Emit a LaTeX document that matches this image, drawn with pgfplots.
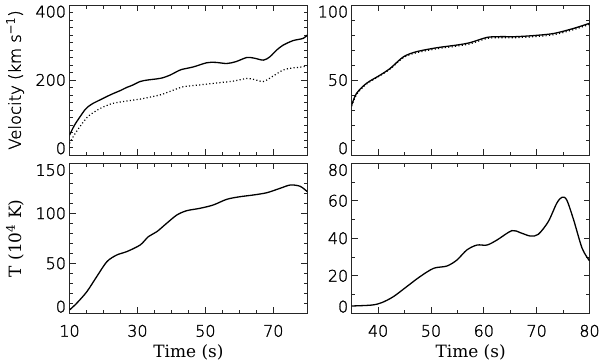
\documentclass[border=0pt]{standalone}
\usepackage{fontspec}
\usepackage{pgfplots}
\pgfplotsset{compat=1.18}
\setmainfont{DejaVu Serif}
\newfontfamily\idlsans[RawFeature={embolden=1.5}]{DejaVu Sans ExtraLight}

% y tick labels: first one raised, last one lowered (as IDL does)
\newcommand{\ylab}[1]{%
  \ifnum\ticknum=0 \raisebox{0.42em}[\height][\depth]{\pgfmathprintnumber{\tick}}%
  \else\ifnum\ticknum=#1 \raisebox{-0.42em}[\height][\depth]{\pgfmathprintnumber{\tick}}%
  \else\pgfmathprintnumber{\tick}\fi\fi}

\pgfplotsset{
  idl/.style={
    scale only axis,
    width=237.8bp, height=150bp,
    axis line style={black!85, line width=0.9bp},
    every tick/.style={black!85, line width=0.8bp},
    major tick length=6bp,
    minor tick length=3.5bp,
    tick align=inside,
    xtick pos=both, ytick pos=both,
    /pgf/number format/assume math mode=true,
    tick label style={font=\fontsize{16}{16}\idlsans, text=black},
    xticklabel style={anchor=base, yshift=-23.4bp},
    label style={text=black},
    xlabel style={font=\fontsize{17}{17}\selectfont, at={(axis description cs:0.5,-0.295)}, anchor=base},
    ylabel style={at={(axis description cs:-0.229,0.5)}, anchor=center},
  },
  leftx/.style={xmin=10, xmax=80, xtick={10,30,50,70}, minor x tick num=3},
  rightx/.style={xmin=35, xmax=80, xtick={40,50,60,70,80}, minor x tick num=1},
  sol/.style={black, line width=1.3bp, smooth, tension=0.5},
  dot/.style={black, line width=1.2bp, dash pattern=on 1.1bp off 2.3bp, smooth, tension=0.5},
}

\begin{document}
\begin{tikzpicture}
\path[use as bounding box] (0,0) rectangle (600bp,-362bp);

% top left: velocity
\begin{axis}[idl, leftx, at={(69.5bp,-5bp)}, anchor=north west,
  xticklabels={},
  ymin=0, ymax=400, ytick={0,200,400}, minor y tick num=9,
  yticklabel={\ylab{2}},
  ylabel={\fontsize{16.5}{16.5}\idlsans Velocity (km s\textsuperscript{−1})}]
\addplot[sol] coordinates {
(10,53) (11.5,80) (13.1,102) (14.5,120) (15.5,129) (17,138) (19,147) (21,156)
(22.9,164) (25,172) (26.8,180) (28.5,186) (30.8,196) (33,200) (35.7,203)
(37.5,206) (39.6,213) (41.5,222) (43,228) (46.5,235) (50.4,246) (53,247)
(56.3,244) (59,249) (62.2,260) (64.5,258) (67.1,253) (69,262) (71,280)
(72.9,293) (75.8,305) (78.8,311) (80,320)};
\addplot[dot] coordinates {
(10,31) (11.5,55) (13.1,76) (14.5,93) (16,107) (19,124) (21,132) (22.9,138)
(26.8,144) (30.8,149) (33.5,154) (36.6,160) (38.5,166) (40.6,173) (43.5,182)
(48.4,187) (54.3,193) (58.2,197) (62.2,204) (64.5,201) (67.1,196) (70,211)
(73,227) (75.5,232) (77.9,234) (80,238)};
\end{axis}

% top right
\begin{axis}[idl, rightx, at={(351.7bp,-5bp)}, anchor=north west,
  xticklabels={},
  ymin=0, ymax=100, ytick={0,50,100}, minor y tick num=4,
  yticklabel={\ylab{2}}]
\addplot[sol] coordinates {
(35,33.3) (35.9,41) (37.8,47.8) (40.4,53.3) (42.3,57.8) (44.8,65.5) (47.3,68.9)
(51.1,71.5) (54.9,73.3) (57.4,74.9) (60.6,78.4) (63.1,78.9) (66,78.9)
(69.4,79.6) (73.2,81) (77,84.4) (80,87.8)};
\addplot[dot] coordinates {
(35,32.5) (35.9,40.3) (37.8,47.3) (40.4,53) (42.3,57.4) (44.8,65) (47.3,68.2)
(51.1,70.8) (54.9,72.6) (57.4,74.1) (60.6,77.7) (63.1,78.2) (66,78.2)
(69.4,78.9) (73.2,80.2) (77,83.6) (80,87.1)};
\end{axis}

% bottom left: temperature
\begin{axis}[idl, leftx, at={(69.5bp,-163.3bp)}, anchor=north west,
  ymin=0, ymax=150, ytick={0,50,100,150}, minor y tick num=4,
  yticklabel={\ylab{3}},
  xlabel={Time (s)},
  ylabel={\fontsize{17}{17}\selectfont T (10\textsuperscript{4} K)}]
\addplot[sol] coordinates {
(10,3.3) (12.1,10) (15.1,21.6) (18,36.6) (21,51.6) (23.9,58.3) (26.8,61.6)
(30.8,68.3) (33.2,76.6) (35.7,81.6) (38.6,90) (41.6,98.3) (44.5,102.6)
(48.4,105) (52.3,108.3) (56.3,114) (60.2,116.6) (64.1,118.3) (68.1,120.6)
(72,125) (75,128.3) (77.9,127) (80,121.6)};
\end{axis}

% bottom right
\begin{axis}[idl, rightx, at={(351.7bp,-163.3bp)}, anchor=north west,
  ymin=0, ymax=80, ytick={0,20,40,60,80}, minor y tick num=1,
  yticklabel={\ylab{4}},
  xlabel={Time (s)}]
\addplot[sol] coordinates {
(35,3.9) (38.8,4.4) (40.7,5.7) (42.9,8.9) (45.4,14.2) (47.9,19.5) (50.5,24)
(53,25.2) (54.9,28.4) (56.8,33.8) (58.7,36.4) (60.6,36.4) (62.5,39.1)
(65.3,44.1) (66.9,43) (68.8,41.2) (70.3,42.1) (72.2,48.9) (73.8,58.7)
(74.8,61.9) (75.7,60.4) (77,49.8) (78.6,34.7) (80,28)};
\end{axis}
\end{tikzpicture}
\end{document}
